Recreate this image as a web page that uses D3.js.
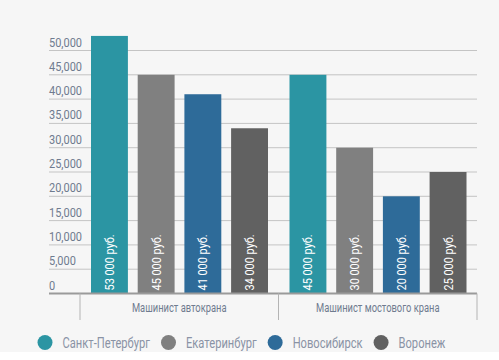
<!DOCTYPE html>
<html>
<head>
<meta charset="utf-8">
<script src="https://cdn.jsdelivr.net/npm/d3@7"></script>
<style>
  body { margin: 0; background: #ffffff; }
  svg text { font-family: "Roboto", sans-serif; }
</style>
</head>
<body>
<div id="chart"></div>
<script>
// data
var categories = ["Машинист автокрана", "Машинист мостового крана"];
var cities = ["Санкт-Петербург", "Екатеринбург", "Новосибирск", "Воронеж"];
var colors = ["#2b95a3", "#808080", "#2e6b99", "#616161"];
var autoCrane = [53000, 45000, 41000, 34000];
var bridgeCrane = [45000, 30000, 20000, 25000];
var yTicks = [0, 5000, 10000, 15000, 20000, 25000, 30000, 35000, 40000, 45000, 50000];

var width = 499, height = 360;
var narrow = 0.78; // squeeze text horizontally, the original font is a condensed one

var svg = d3.select("#chart")
    .append("svg")
    .attr("width", width)
    .attr("height", height);

// light panel background
svg.append("rect")
    .attr("width", width)
    .attr("height", 352)
    .attr("fill", "#f6f6f6");

var rows = categories.map(function (c, i) {
    return { cat: c, values: i == 0 ? autoCrane : bridgeCrane };
});

var y = d3.scaleLinear()
    .domain([0, 50000])
    .range([293.5, 50.5]);

var x0 = d3.scaleBand()
    .domain(categories)
    .range([80, 477]);

var x1 = d3.scaleBand()
    .domain(cities)
    .range([11, 188])
    .paddingInner(0.21);

// grid lines + tick labels
var grid = svg.append("g");
grid.selectAll("line")
    .data(yTicks.slice(1))
    .enter()
    .append("line")
    .attr("x1", 49)
    .attr("x2", 477)
    .attr("y1", function (d) { return y(d); })
    .attr("y2", function (d) { return y(d); })
    .attr("stroke", "#c4c4c4")
    .attr("stroke-width", 1);

grid.selectAll("text")
    .data(yTicks)
    .enter()
    .append("text")
    .attr("transform", function (d) { return "translate(49," + (y(d) - 4) + ") scale(0.88,1)"; })
    .attr("font-size", 12.5)
    .attr("fill", "#6f7b8f")
    .text(function (d) { return d3.format(",")(d); });

// bars
var groups = svg.selectAll(".grp")
    .data(rows)
    .enter()
    .append("g")
    .attr("transform", function (d) { return "translate(" + x0(d.cat) + ",0)"; });

groups.selectAll("rect")
    .data(function (d) { return d.values; })
    .enter()
    .append("rect")
    .attr("x", function (d, i) { return x1(cities[i]); })
    .attr("y", function (d) { return y(d); })
    .attr("width", x1.bandwidth())
    .attr("height", function (d) { return y(0) - y(d); })
    .attr("fill", function (d, i) { return colors[i]; });

groups.selectAll(".val")
    .data(function (d) { return d.values; })
    .enter()
    .append("text")
    .attr("class", "val")
    .attr("transform", function (d, i) {
        return "translate(" + (x1(cities[i]) + x1.bandwidth() / 2 + 4.5) + "," + (y(0) - 3) + ") rotate(-90) scale(0.84,1)";
    })
    .attr("font-size", 13)
    .attr("fill", "#ffffff")
    .text(function (d) { return d3.format(",")(d).replace(",", " ") + " руб."; });

// x axis
var xAxis = svg.append("g");
xAxis.append("line")
    .attr("x1", 49)
    .attr("x2", 477)
    .attr("y1", y(0))
    .attr("y2", y(0))
    .attr("stroke", "#9a9a9a")
    .attr("stroke-width", 2);

var edges = [x0.range()[0]].concat(categories.map(function (c) { return x0(c) + x0.bandwidth(); }));
xAxis.selectAll(".tk")
    .data(edges)
    .enter()
    .append("line")
    .attr("x1", function (d) { return d; })
    .attr("x2", function (d) { return d; })
    .attr("y1", y(0))
    .attr("y2", 320)
    .attr("stroke", "#b4b4b4")
    .attr("stroke-width", 1);

xAxis.selectAll(".cat")
    .data(categories)
    .enter()
    .append("text")
    .attr("transform", function (d) { return "translate(" + (x0(d) + x0.bandwidth() / 2) + ",312) scale(" + narrow + ",1)"; })
    .attr("text-anchor", "middle")
    .attr("font-size", 12)
    .attr("fill", "#6f7b8f")
    .text(function (d) { return d; });

// legend, laid out left to right
var lx = 45;
cities.forEach(function (c, i) {
    var g = svg.append("g").attr("transform", "translate(" + lx + ",342.5)");
    g.append("circle")
        .attr("r", 7.5)
        .attr("fill", colors[i]);
    var t = g.append("text")
        .attr("transform", "translate(17.5,5.5) scale(" + narrow + ",1)")
        .attr("font-size", 14.3)
        .attr("fill", "#8a93a5")
        .text(c);
    lx += 17.5 + t.node().getComputedTextLength() * narrow + 11 + 7.5;
});
</script>
</body>
</html>
